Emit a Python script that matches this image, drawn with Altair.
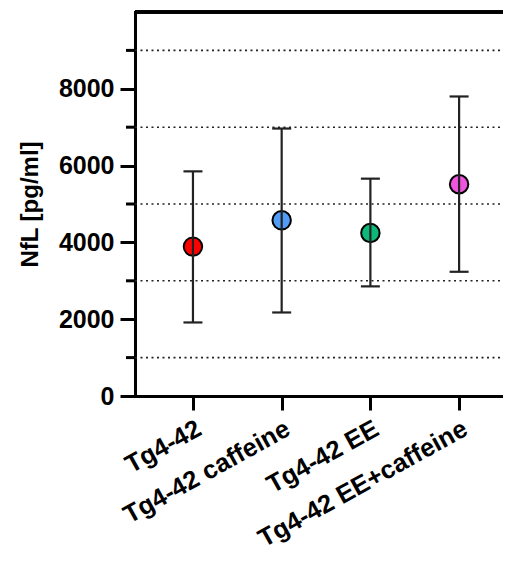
import altair as alt
import pandas as pd

groups = ["Tg4-42", "Tg4-42 caffeine", "Tg4-42 EE", "Tg4-42 EE+caffeine"]
means = [3890, 4575, 4245, 5515]
lows = [1915, 2175, 2855, 3235]
highs = [5850, 6965, 5660, 7800]
colors = ["#FF0000", "#529CF7", "#0DB879", "#EE55DC"]
major_ticks = [0, 2000, 4000, 6000, 8000]
minor_ticks = [1000, 3000, 5000, 7000, 9000]

W, H = 368, 384
FONT = "Liberation Sans"

df = pd.DataFrame({"group": groups, "mean": means, "lo": lows, "hi": highs})
grid_df = pd.DataFrame({"v": minor_ticks})

yscale = alt.Scale(domain=[0, 10000], nice=False)
xscale = alt.Scale(type="point", padding=0.574, align=0.569)
color_scale = alt.Scale(domain=groups, range=colors)

x_enc = alt.X(
    "group:N", sort=groups, scale=xscale,
    axis=alt.Axis(
        title=None, domainColor="black", domainWidth=3, domainCap="square",
        tickColor="black", tickWidth=3, tickSize=14,
        labelAngle=-29, labelAlign="right", labelBaseline="top",
        labelFont=FONT, labelFontSize=25.5, labelFontWeight="bold",
        labelColor="black", labelPadding=6, labelOverlap=False,
        labelLimit=0,
    ),
)

y_axis = alt.Axis(
    values=major_ticks, format="d", grid=False,
    domainColor="black", domainWidth=3, domainCap="square",
    tickColor="black", tickWidth=3, tickSize=15,
    labelFont=FONT, labelFontSize=25, labelFontWeight="bold",
    labelColor="black", labelPadding=6,
    title="NfL [pg/ml]", titleFont=FONT, titleFontSize=24,
    titleFontWeight="bold", titleColor="black", titlePadding=16,
)

grid = alt.Chart(grid_df).mark_rule(
    color="#222222", strokeWidth=1.6, strokeDash=[2, 3.5]
).encode(
    y=alt.Y("v:Q", scale=yscale, axis=y_axis),
    x=alt.value(0), x2=alt.value(W),
)

minor = alt.Chart(grid_df).mark_rule(color="black", strokeWidth=3).encode(
    y=alt.Y("v:Q", scale=yscale),
    x=alt.value(-9), x2=alt.value(0),
)

top = alt.Chart(grid_df).mark_rule(color="black", strokeWidth=3).encode(
    y=alt.value(0), x=alt.value(0), x2=alt.value(W),
)

points = alt.Chart(df).mark_circle(
    size=340, opacity=1, stroke="black", strokeWidth=2
).encode(
    x=x_enc,
    y=alt.Y("mean:Q", scale=yscale),
    color=alt.Color("group:N", scale=color_scale, legend=None),
)

err = alt.Chart(df).mark_rule(color="#222222", strokeWidth=2.2).encode(
    x=alt.X("group:N", sort=groups, scale=xscale),
    y=alt.Y("lo:Q", scale=yscale),
    y2="hi:Q",
)

cap_lo = alt.Chart(df).mark_tick(
    color="#222222", thickness=2.2, size=19, orient="horizontal", opacity=1
).encode(
    x=alt.X("group:N", sort=groups, scale=xscale),
    y=alt.Y("lo:Q", scale=yscale),
)

cap_hi = alt.Chart(df).mark_tick(
    color="#222222", thickness=2.2, size=19, orient="horizontal", opacity=1
).encode(
    x=alt.X("group:N", sort=groups, scale=xscale),
    y=alt.Y("hi:Q", scale=yscale),
)

chart = alt.layer(grid, minor, top, points, err, cap_lo, cap_hi).properties(
    width=W, height=H,
    autosize="none",
    padding={"left": 127, "top": 4, "right": 0, "bottom": 160},
    background="white",
).configure_view(stroke=None)

chart.save("out.html", embed_options={"renderer": "svg", "actions": False})
